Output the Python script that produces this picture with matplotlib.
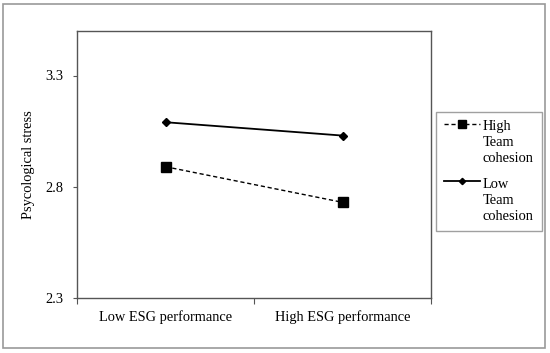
import matplotlib
matplotlib.use("Agg")
import numpy as np
import matplotlib.pyplot as plt
from matplotlib.patches import Rectangle
from matplotlib.legend_handler import HandlerLine2D

categories = ["Low ESG performance", "High ESG performance"]
high_cohesion = [2.89, 2.73]
low_cohesion = [3.09, 3.03]
series_labels = ["High\nTeam\ncohesion", "Low\nTeam\ncohesion"]
yticks = [2.3, 2.8, 3.3]

plt.rcParams['font.family'] = ['Liberation Serif', 'DejaVu Serif']

FS = 10.4
LS = 1.32


class TopLineHandler(HandlerLine2D):
    """Align legend handle with the first line of a multi-line label."""
    def __init__(self, shift, **kw):
        super().__init__(**kw)
        self.shift = shift

    def create_artists(self, legend, orig_handle, xdescent, ydescent, width,
                       height, fontsize, trans):
        arts = super().create_artists(legend, orig_handle, xdescent, ydescent,
                                      width, height, fontsize, trans)
        for a in arts:
            a.set_ydata(np.asarray(a.get_ydata(), dtype=float) + self.shift)
        return arts


fig = plt.figure(figsize=(5.5, 3.53), dpi=100)
ax = fig.add_axes([77/550, 1-298/353, (431-77)/550, (298-31)/353])

x = list(range(len(categories)))
l1, = ax.plot(x, high_cohesion, color='black', linestyle=(0, (3, 2)), linewidth=1.0,
              marker='s', markersize=6.5, label=series_labels[0])
l2, = ax.plot(x, low_cohesion, color='black', linestyle='-', linewidth=1.3,
              marker='D', markersize=4, label=series_labels[1])

ax.set_xlim(-0.5, 1.5)
ax.set_ylim(2.3, 3.5)
ax.set_yticks(yticks)
ax.set_yticklabels([f"{v:.1f}" for v in yticks])
ax.set_xticks([-0.5, 0.5, 1.5])
ax.set_xticklabels([])
ax.set_xticks(x, minor=True)
ax.set_xticklabels(categories, minor=True)
ax.tick_params(axis='x', which='minor', length=0, pad=9, labelsize=FS)
ax.tick_params(axis='x', which='major', direction='out', length=4, color='#555555')
ax.tick_params(axis='y', direction='out', length=3, color='#555555', labelsize=FS, pad=7)
for s in ax.spines.values():
    s.set_color('#555555')
    s.set_linewidth(1.0)
ax.set_ylabel("Psycological stress", fontsize=FS, labelpad=7)

shift = FS * LS * 1.0
leg = ax.legend(handles=[l1, l2], loc='upper left',
                bbox_to_anchor=(436/550, 1-112/353),
                bbox_transform=fig.transFigure, fontsize=FS, markerscale=0.8,
                frameon=True, fancybox=False, edgecolor='#888888', handlelength=2.5,
                handletextpad=0.2, borderpad=0.55, labelspacing=0.85, borderaxespad=0,
                handler_map={l1: TopLineHandler(shift), l2: TopLineHandler(shift)})
for t in leg.get_texts():
    t.set_linespacing(LS)
leg.get_frame().set_linewidth(1.0)

fig.patches.append(Rectangle((3/550, 5/353), 542/550, 344/353, transform=fig.transFigure,
                             fill=False, edgecolor='#999999', linewidth=1.2))

fig.savefig("out.png", dpi=100)
